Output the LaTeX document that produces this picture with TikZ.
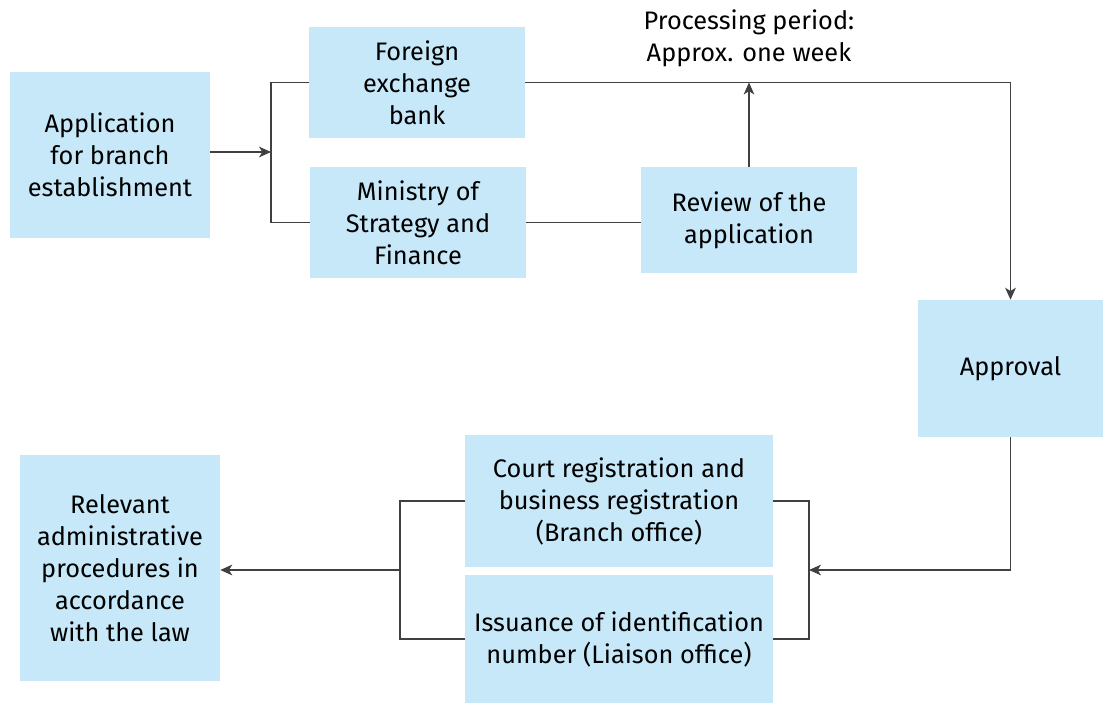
\documentclass[tikz,border=0pt]{standalone}
\usepackage{fontspec}
\setmainfont{Fira Sans}
\usetikzlibrary{arrows.meta}
\definecolor{boxblue}{HTML}{C7E8F8}
\tikzstyle{block} = [rectangle, fill=boxblue, align=center, inner sep=0pt, font=\fontsize{19}{24}\selectfont]
\tikzstyle{link} = [draw=black!75, line width=0.9pt]

\begin{document}
\begin{tikzpicture}[x=0.75pt, y=-0.75pt, >={Stealth[length=9pt,width=8pt,inset=2.5pt]}]
        \useasboundingbox (0,0) rectangle (1103,704);

        \node[block, minimum width=150pt, minimum height=124.5pt] (app) at (110,155) {Application\\for branch\\establishment};
        \node[block, minimum width=162pt, minimum height=83.25pt] (bank) at (417,82.5) {Foreign\\exchange\\bank};
        \node[block, minimum width=162pt, minimum height=83.25pt] (ministry) at (418,222.5) {Ministry of\\Strategy and\\Finance};
        \node[block, minimum width=162pt, minimum height=79.5pt] (review) at (749,220) {Review of the\\application};
        \node[block, minimum width=138.75pt, minimum height=102.75pt] (approval) at (1010.5,368.5) {Approval};
        \node[block, minimum width=231pt, minimum height=99pt] (court) at (619,501) {Court registration and\\business registration\\(Branch office)};
        \node[block, minimum width=231pt, minimum height=96pt] (issue) at (619,639) {Issuance of identification\\number (Liaison office)};
        \node[block, minimum width=150pt, minimum height=169.5pt] (relevant) at (120,568) {Relevant\\administrative\\procedures in\\accordance\\with the law};
        \node[align=center, font=\fontsize{19}{24}\selectfont] (period) at (749,38) {Processing period:\\Approx. one week};

        \coordinate (split) at (271,152);
        \coordinate (merge) at (809,570);
        \coordinate (join) at (400,570);

        % upper branch
        \draw[link, ->] (app.east |- split) -- (split);
        \draw[link] (bank.west) -- (bank.west -| split) -- (ministry.west -| split) -- (ministry.west);
        \draw[link] (ministry.east) -- (ministry.east -| review.west);
        \draw[link, ->] (review.north) -- (review.north |- bank.east);
        \draw[link, ->] (bank.east) -| (approval.north);

        % lower branch
        \draw[link, ->] (approval.south) |- (merge);
        \draw[link] (court.east) -- (court.east -| merge) -- (issue.east -| merge) -- (issue.east);
        \draw[link] (court.west) -- (court.west -| join) -- (issue.west -| join) -- (issue.west);
        \draw[link, ->] (join) -- (relevant.east |- join);
\end{tikzpicture}
\end{document}
